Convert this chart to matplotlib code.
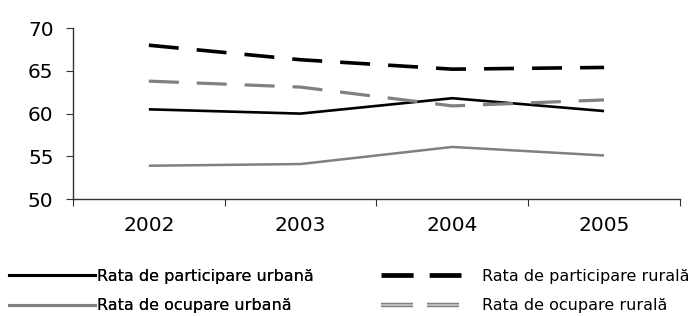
import matplotlib
matplotlib.use("Agg")
import matplotlib.pyplot as plt
import matplotlib.patheffects as pe
from matplotlib.lines import Line2D

years = ["2002", "2003", "2004", "2005"]
part_urbana = [60.5, 60.0, 61.8, 60.3]
part_rurala = [68.0, 66.3, 65.2, 65.4]
ocup_urbana = [53.9, 54.1, 56.1, 55.1]
ocup_rurala = [63.8, 63.1, 60.9, 61.6]

labels = [
    "Rata de participare urbană",
    "Rata de ocupare urbană",
    "Rata de participare rurală",
    "Rata de ocupare rurală",
]

plt.rcParams["font.family"] = ["DejaVu Sans"]

fig = plt.figure(figsize=(6.91, 3.16), dpi=100)
ax = fig.add_axes([0.1056, 0.370, 0.8784, 0.541])

x = list(range(len(years)))
gray = "#808080"

ax.plot(x, part_urbana, color="black", lw=1.9, solid_capstyle="butt")
ax.plot(x, ocup_urbana, color=gray, lw=1.8, solid_capstyle="butt")
ax.plot(x, part_rurala, color="black", lw=2.6, dashes=(8.3, 5.0), dash_capstyle="butt")
ax.plot(x, ocup_rurala, color=gray, lw=2.3, dashes=(9.4, 5.6), dash_capstyle="butt")

ax.set_xlim(-0.5, len(years) - 0.5)
ax.set_ylim(50, 70)
ax.set_yticks([50, 55, 60, 65, 70])
ax.set_xticks([i - 0.5 for i in range(len(years) + 1)])
ax.set_xticklabels([])
ax.set_xticks(x, minor=True)
ax.set_xticklabels(years, minor=True)
ax.tick_params(axis="x", which="major", length=5, direction="out", color="#333333")
ax.tick_params(axis="x", which="minor", length=0, pad=12, labelsize=14.5)
ax.tick_params(axis="y", length=5, direction="out", pad=9, labelsize=14.5, color="#333333")
for side in ("top", "right"):
    ax.spines[side].set_visible(False)
for side in ("left", "bottom"):
    ax.spines[side].set_color("#333333")
    ax.spines[side].set_linewidth(1.0)

# legend proxies
h_pu = Line2D([], [], color="black", lw=2.2)
h_ou = Line2D([], [], color=gray, lw=2.2)
h_pr = Line2D([], [], color="black", lw=3.4, dashes=(6.8, 3.4), dash_capstyle="butt")
h_or = Line2D([], [], color="#c8c8c8", lw=1.2, dashes=(19.2, 8.4), dash_capstyle="butt",
              path_effects=[pe.Stroke(linewidth=3.2, foreground=gray), pe.Normal()])

fs = 11.5
em = fs * 100 / 72
leg1 = fig.legend([h_pu, h_ou], labels[:2], loc="upper left",
                  bbox_to_anchor=(9 / 691, 0.149), frameon=False, fontsize=fs,
                  handlelength=86 / em, handletextpad=2 / em, labelspacing=0.91,
                  borderpad=0, borderaxespad=0)
fig.add_artist(leg1)
fig.legend([h_pr, h_or], labels[2:], loc="upper left",
           bbox_to_anchor=(381 / 691, 0.149), frameon=False, fontsize=fs,
           handlelength=80 / em, handletextpad=21 / em, labelspacing=0.91,
           borderpad=0, borderaxespad=0)

fig.savefig("out.png", dpi=100)
